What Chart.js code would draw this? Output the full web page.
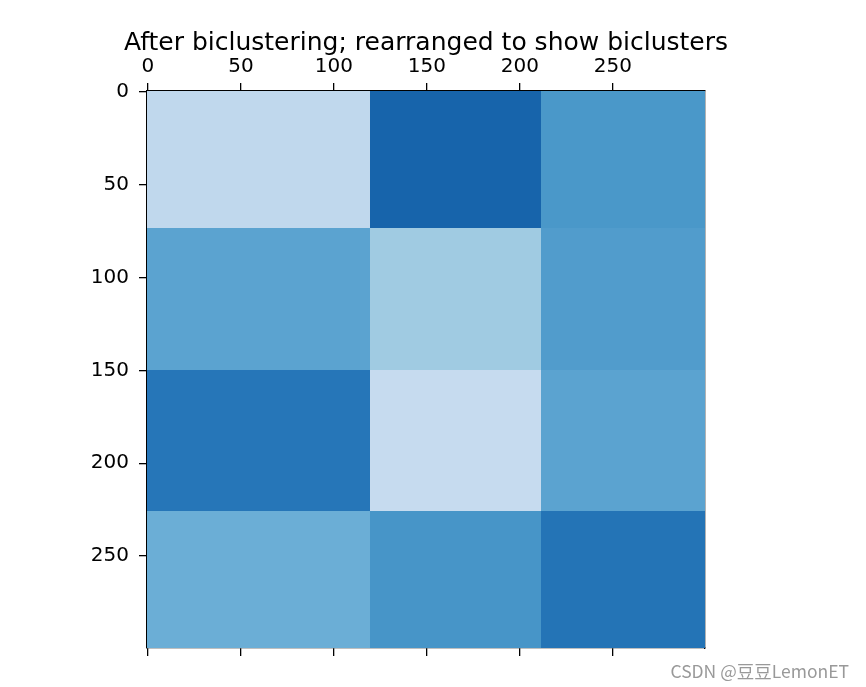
<!DOCTYPE html>
<html>
<head>
<meta charset="utf-8">
<script src="https://cdn.jsdelivr.net/npm/chart.js@4"></script>
<style>
  html, body { margin: 0; padding: 0; background: #fff; }
  #wrap { position: relative; width: 866px; height: 687px; }
  #mark {
    position: absolute; right: 17px; bottom: 4px;
    font-family: 'Noto Sans CJK SC', 'Noto Sans', sans-serif;
    font-size: 17.5px; color: #999;
  }
</style>
</head>
<body>
<div id="wrap">
  <canvas id="heat" width="866" height="687"></canvas>
  <div id="mark">CSDN @豆豆LemonET</div>
</div>
<script>
// block layout of the rearranged matrix (row / column cluster edges)
const rowEdges = [0, 74, 150, 226, 300];
const colEdges = [0, 120, 212, 300];

// mean value of each bicluster block, 0..1 on the Blues colormap
const blockValues = [
  [0.27, 0.80, 0.60],
  [0.55, 0.37, 0.58],
  [0.73, 0.25, 0.55],
  [0.50, 0.61, 0.74],
];

const tickValues = [0, 50, 100, 150, 200, 250];
const chartTitle = 'After biclustering; rearranged to show biclusters';

// matplotlib "Blues" stops
const BLUES = ['#f7fbff', '#deebf7', '#c6dbef', '#9ecae1', '#6baed6',
               '#4292c6', '#2171b5', '#08519c', '#08306b'];

function hexRgb(h) {
  return [1, 3, 5].map(i => parseInt(h.substr(i, 2), 16));
}

function blues(v) {
  const t = Math.max(0, Math.min(1, v)) * (BLUES.length - 1);
  const i = Math.min(BLUES.length - 2, Math.floor(t));
  const f = t - i;
  const a = hexRgb(BLUES[i]), b = hexRgb(BLUES[i + 1]);
  const c = a.map((x, k) => Math.round(x + (b[k] - x) * f));
  return `rgb(${c[0]},${c[1]},${c[2]})`;
}

/* ----------------------------------------------------------
   Draw the blocks through the chart's own scales
   ---------------------------------------------------------- */
const blockPlugin = {
  id: 'blocks',
  beforeDatasetsDraw(chart) {
    const { ctx, scales } = chart;
    const xs = scales.x, ys = scales.y;
    ctx.save();
    for (let r = 0; r < rowEdges.length - 1; r++) {
      for (let c = 0; c < colEdges.length - 1; c++) {
        const x0 = Math.round(xs.getPixelForValue(colEdges[c] - 0.5));
        const x1 = Math.round(xs.getPixelForValue(colEdges[c + 1] - 0.5));
        const y0 = Math.round(ys.getPixelForValue(rowEdges[r] - 0.5));
        const y1 = Math.round(ys.getPixelForValue(rowEdges[r + 1] - 0.5));
        ctx.fillStyle = blues(blockValues[r][c]);
        ctx.fillRect(x0, y0, x1 - x0, y1 - y0);
      }
    }
    ctx.restore();
  },
  // title centred over the image, like matplotlib
  afterDraw(chart) {
    const { ctx, chartArea } = chart;
    ctx.save();
    ctx.fillStyle = '#000';
    ctx.font = "25px 'DejaVu Sans', sans-serif";
    ctx.textAlign = 'center';
    ctx.textBaseline = 'alphabetic';
    ctx.fillText(chartTitle, (chartArea.left + chartArea.right) / 2, 50);
    ctx.restore();
  },
};

const tickFont = { family: "'DejaVu Sans', sans-serif", size: 20 };

function axisRange() {
  return {
    type: 'linear',
    min: -0.5,
    max: 299.5,
    border: { display: true, color: '#000', width: 1.3 },
  };
}

function tickGrid(len) {
  return { drawOnChartArea: false, drawTicks: true, tickLength: len, color: '#000', lineWidth: 1.3 };
}

function fixedTicks(axis) {
  axis.ticks = tickValues.map(v => ({ value: v }));
}

new Chart(document.getElementById('heat'), {
  type: 'scatter',
  data: { datasets: [{ data: [] }] },
  plugins: [blockPlugin],
  options: {
    responsive: false,
    animation: false,
    layout: { padding: { left: 0, right: 161, top: 0, bottom: 29 } },
    plugins: {
      legend: { display: false },
      tooltip: { enabled: false },
      title: { display: false },
    },
    scales: {
      x: {
        ...axisRange(),
        position: 'top',
        afterBuildTicks: fixedTicks,
        afterFit: (s) => { s.height = 91; },
        grid: tickGrid(8),
        ticks: { color: '#000', font: tickFont, padding: 4, maxRotation: 0 },
      },
      x2: {
        ...axisRange(),
        position: 'bottom',
        afterBuildTicks: fixedTicks,
        afterFit: (s) => { s.height = 10; },
        grid: tickGrid(8),
        ticks: { display: false },
      },
      y: {
        ...axisRange(),
        reverse: true,
        position: 'left',
        afterBuildTicks: fixedTicks,
        afterFit: (s) => { s.width = 147; },
        grid: tickGrid(8),
        ticks: { color: '#000', font: tickFont, padding: 10 },
      },
      y2: {
        ...axisRange(),
        position: 'right',
        afterFit: (s) => { s.width = 0; },
        grid: { display: false },
        ticks: { display: false },
      },
    },
  },
});
</script>
</body>
</html>
